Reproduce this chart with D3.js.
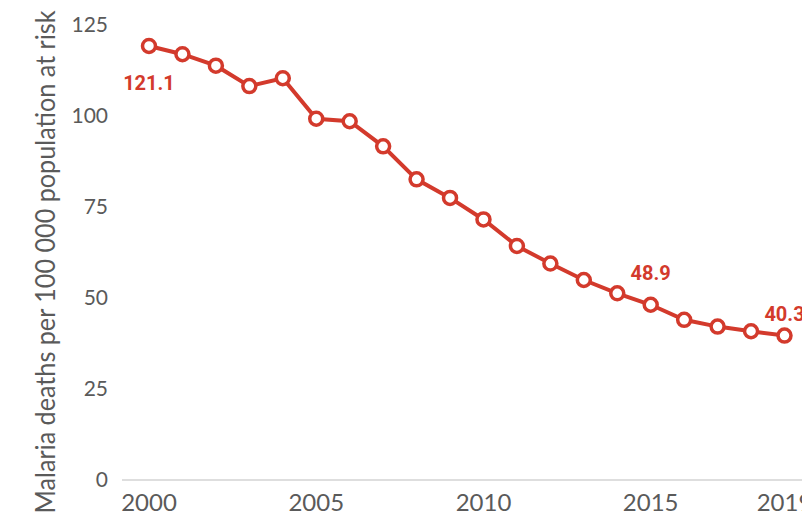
<!DOCTYPE html>
<html>
<head>
<script src="https://d3js.org/d3.v7.min.js"></script>
<style>
  body { margin: 0; background: #fff; overflow: hidden; }
</style>
</head>
<body>
<svg id="chart" width="802" height="517"></svg>
<script>
// data
var years = [2000, 2001, 2002, 2003, 2004, 2005, 2006, 2007, 2008, 2009,
             2010, 2011, 2012, 2013, 2014, 2015, 2016, 2017, 2018, 2019];
var deaths = [121.1, 118.8, 115.6, 109.9, 112.1, 100.8, 100.1, 93.1, 83.9, 78.7,
              72.7, 65.3, 60.4, 55.8, 52.1, 48.9, 44.7, 42.8, 41.5, 40.3];
var yTicks = [0, 25, 50, 75, 100, 125];
var xTicks = [2000, 2005, 2010, 2015, 2019];
var labelYears = [2000, 2015, 2019];

var red = '#d33a2c', grey = '#5a5a5a';
var svg = d3.select('#chart');

var x = d3.scaleLinear().domain([2000, 2019]).range([149, 784.5]);
var y = d3.scaleLinear().domain([0, 125]).range([480, 32]);

// baseline
svg.append('line')
  .attr('x1', 122).attr('x2', 802)
  .attr('y1', y(0)).attr('y2', y(0))
  .style('stroke', '#dedede').style('stroke-width', 2);

// y tick labels
svg.append('g').selectAll('text')
  .data(yTicks).enter().append('text')
  .attr('x', 108)
  .attr('y', d => y(d) + 7 - d * 0.06)
  .attr('text-anchor', 'end')
  .attr('font-family', 'Lato, sans-serif')
  .attr('font-size', 21)
  .style('fill', grey)
  .text(d => d);

// x tick labels
svg.append('g').selectAll('text')
  .data(xTicks).enter().append('text')
  .attr('x', d => x(d))
  .attr('y', 511)
  .attr('text-anchor', 'middle')
  .attr('font-family', 'Lato, sans-serif')
  .attr('font-size', 24)
  .style('fill', grey)
  .text(d => d);

// y axis title
svg.append('text')
  .attr('transform', 'translate(55,262) rotate(-90)')
  .attr('text-anchor', 'middle')
  .attr('font-family', 'Lato, sans-serif')
  .attr('font-size', 26)
  .attr('textLength', 503)
  .attr('lengthAdjust', 'spacingAndGlyphs')
  .style('fill', grey)
  .text('Malaria deaths per 100 000 population at risk');

var pts = years.map((d, i) => ({year: d, v: deaths[i]}));

svg.append('path')
  .datum(pts)
  .attr('d', d3.line().x(d => x(d.year)).y(d => y(d.v)))
  .style('fill', 'none')
  .style('stroke', red)
  .style('stroke-width', 4);

svg.append('g').selectAll('circle')
  .data(pts).enter().append('circle')
  .attr('cx', d => x(d.year))
  .attr('cy', d => y(d.v))
  .attr('r', 6.5)
  .style('fill', '#fff')
  .style('stroke', red)
  .style('stroke-width', 3.5);

// value labels
var offs = {2000: 44, 2015: -25, 2019: -15};
svg.append('g').selectAll('text')
  .data(pts.filter(d => labelYears.includes(d.year))).enter().append('text')
  .attr('x', d => x(d.year))
  .attr('y', d => y(d.v) + offs[d.year])
  .attr('text-anchor', 'middle')
  .attr('font-family', '"Roboto", sans-serif')
  .attr('font-weight', 'bold')
  .attr('font-size', 20)
  .style('fill', red)
  .text(d => d.v.toFixed(1));
</script>
</body>
</html>
